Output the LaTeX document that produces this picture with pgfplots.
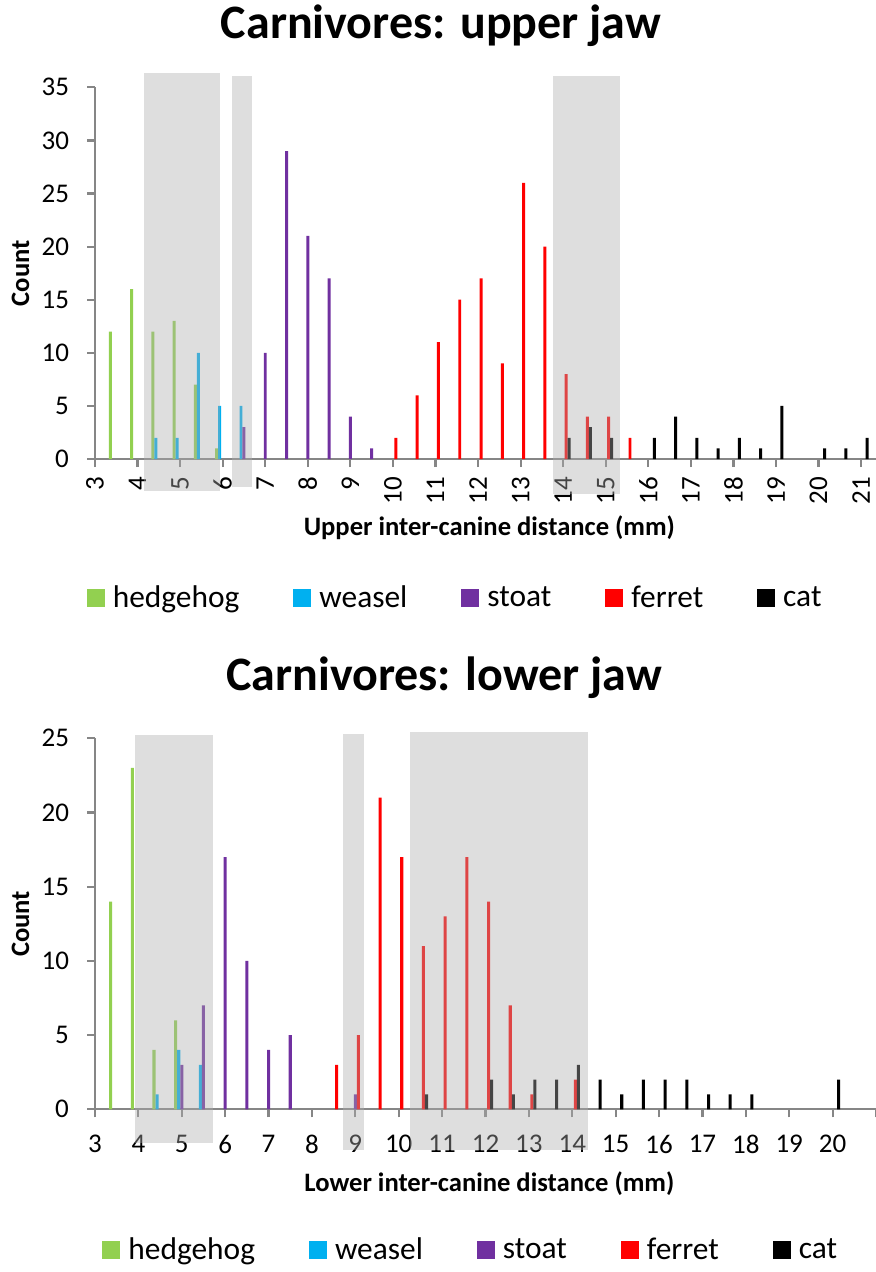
\documentclass[border=0pt]{standalone}
\usepackage{fontspec}
\setmainfont{Carlito}
\usepackage{pgfplots}
\pgfplotsset{compat=1.18}
\definecolor{hedge}{HTML}{92D050}
\definecolor{weasel}{HTML}{00B0F0}
\definecolor{stoat}{HTML}{7030A0}
\definecolor{ferret}{HTML}{FF0000}
\definecolor{cat}{HTML}{000000}
\definecolor{axisgray}{HTML}{868686}
\definecolor{boxgray}{HTML}{ADADAD}

\pgfplotsset{
  sq/.style={legend image code/.code={\fill[##1] (0pt,-4.5pt) rectangle (9pt,4.5pt);}},
  bars/.style={ybar, bar width=0.07, draw=none, sq},
  jaw/.style={
  scale only axis, width=390.5pt, clip=false, set layers,
  axis x line=bottom, axis y line=left,
  axis line style={-, draw=axisgray, line width=1.1pt},
  tick style={draw=axisgray, line width=1.1pt},
  tick align=outside, major tick length=4pt,
  xmin=3, ymin=0, enlargelimits=false,
  ticklabel style={font=\fontsize{13.5}{16}\selectfont},
  yticklabel style={xshift=-5.5pt},
  /pgf/number format/assume math mode=true,
  label style={font=\bfseries\fontsize{13.3}{16}\selectfont},
  every axis title shift=0pt,
  title style={font=\bfseries\fontsize{24}{28}\selectfont, anchor=base},
  xlabel style={anchor=base}, ylabel style={anchor=base},
  legend columns=5,
  legend style={draw=none, fill=none, anchor=center,
    font=\fontsize{15.7}{18}\selectfont, nodes={inner xsep=4pt},
    /tikz/every even column/.append style={column sep=23pt}},
}}

\begin{document}
\begin{tikzpicture}
% upper jaw
\begin{axis}[jaw,
  at={(47.5pt,-229.5pt)}, anchor=south west, height=185.85pt,
  xmax=21.35, ymax=35, xtick={3,...,21}, ytick={0,5,...,35},
  xticklabel style={rotate=90, anchor=east, xshift=-1.5pt},
  title={Carnivores: upper jaw}, title style={at={(0.443,1.13)}},
  xlabel={Upper inter-canine distance (mm)}, xlabel style={at={(0.505,-0.2045)}},
  ylabel={Count}, ylabel style={at={(-0.0845,0.5)}},
  legend style={at={(0.465,-0.374)}},
]
\addplot[bars, fill=hedge, bar shift=-0.14] coordinates {
  (3.5,12) (4.0,16) (4.5,12) (5.0,13) (5.5,7) (6.0,1)};
\addplot[bars, fill=weasel, bar shift=-0.07] coordinates {
  (4.5,2) (5.0,2) (5.5,10) (6.0,5) (6.5,5)};
\addplot[bars, fill=stoat, bar shift=0] coordinates {
  (6.5,3) (7.0,10) (7.5,29) (8.0,21) (8.5,17) (9.0,4) (9.5,1)};
\addplot[bars, fill=ferret, bar shift=0.07] coordinates {
  (10.0,2) (10.5,6) (11.0,11) (11.5,15) (12.0,17) (12.5,9)
  (13.0,26) (13.5,20) (14.0,8) (14.5,4) (15.0,4) (15.5,2)};
\addplot[bars, fill=cat, bar shift=0.14] coordinates {
  (14.0,2) (14.5,3) (15.0,2) (16.0,2) (16.5,4) (17.0,2) (17.5,1)
  (18.0,2) (18.5,1) (19.0,5) (20.0,1) (20.5,1) (21.0,2)};
\legend{hedgehog, weasel, stoat, ferret, cat}
\fill[boxgray, fill opacity=0.4] (axis cs:4.15,-3.0) rectangle (axis cs:5.93,36.3);
\fill[boxgray, fill opacity=0.4] (axis cs:6.22,-2.6) rectangle (axis cs:6.69,36.1);
\fill[boxgray, fill opacity=0.4] (axis cs:13.77,-3.3) rectangle (axis cs:15.33,36.1);
\end{axis}

% lower jaw
\begin{axis}[jaw,
  at={(47.5pt,-554.65pt)}, anchor=south west, height=185.5pt,
  xmax=21, ymax=25, xtick={3,...,20}, ytick={0,5,...,25},
  extra x ticks={21}, extra x tick labels={},
  xticklabel style={yshift=-5.5pt},
  title={Carnivores: lower jaw}, title style={at={(0.447,1.128)}},
  xlabel={Lower inter-canine distance (mm)}, xlabel style={at={(0.505,-0.222)}},
  ylabel={Count}, ylabel style={at={(-0.0845,0.5)}},
  legend style={at={(0.485,-0.379)}},
]
\addplot[bars, fill=hedge, bar shift=-0.14] coordinates {
  (3.5,14) (4.0,23) (4.5,4) (5.0,6)};
\addplot[bars, fill=weasel, bar shift=-0.07] coordinates {
  (4.5,1) (5.0,4) (5.5,3)};
\addplot[bars, fill=stoat, bar shift=0] coordinates {
  (5.0,3) (5.5,7) (6.0,17) (6.5,10) (7.0,4) (7.5,5) (9.0,1)};
\addplot[bars, fill=ferret, bar shift=0.07] coordinates {
  (8.5,3) (9.0,5) (9.5,21) (10.0,17) (10.5,11) (11.0,13)
  (11.5,17) (12.0,14) (12.5,7) (13.0,1) (14.0,2)};
\addplot[bars, fill=cat, bar shift=0.14] coordinates {
  (10.5,1) (12.0,2) (12.5,1) (13.0,2) (13.5,2) (14.0,3) (14.5,2)
  (15.0,1) (15.5,2) (16.0,2) (16.5,2) (17.0,1) (17.5,1) (18.0,1) (20.0,2)};
\legend{hedgehog, weasel, stoat, ferret, cat}
\fill[boxgray, fill opacity=0.4] (axis cs:3.93,-2.29) rectangle (axis cs:5.73,25.2);
\fill[boxgray, fill opacity=0.4] (axis cs:8.72,-2.74) rectangle (axis cs:9.20,25.3);
\fill[boxgray, fill opacity=0.4] (axis cs:10.26,-2.74) rectangle (axis cs:14.37,25.4);
\end{axis}
\pgfresetboundingbox
\path[use as bounding box] (0,0) rectangle (438pt,-636pt);
\end{tikzpicture}
\end{document}
